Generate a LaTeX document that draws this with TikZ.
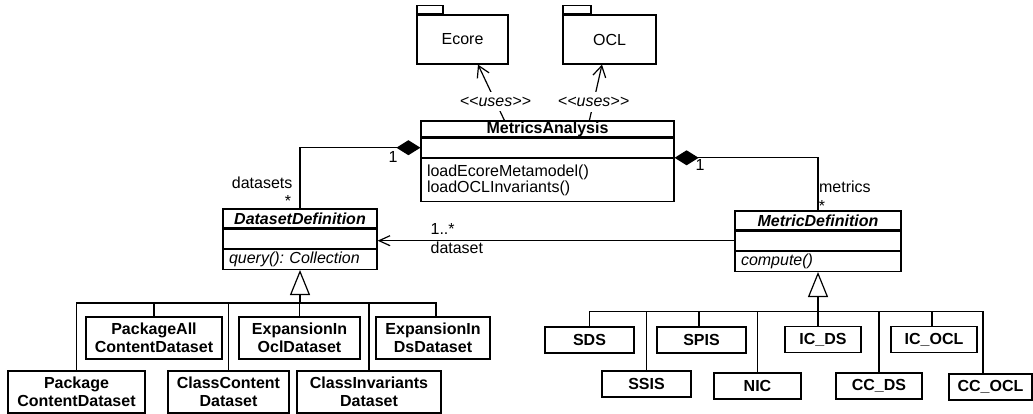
\documentclass[tikz,border=0pt]{standalone}
\usepackage{fontspec}
\setmainfont{Liberation Sans}
\usetikzlibrary{arrows.meta,positioning}
\newcommand{\stereo}[1]{<\kern0pt<#1>\kern0pt>}
\frenchspacing

\begin{document}
\begin{tikzpicture}[
		x=1pt, y=-1pt,
		line width=1.2pt,
		font=\fontsize{16}{18}\selectfont,
		cname/.style={draw, inner sep=0pt, minimum width=#1, font=\fontsize{16}{18}\selectfont\bfseries},
		abstract/.style={font=\fontsize{16}{18}\selectfont\bfseries\itshape},
		part/.style={draw, inner sep=0pt, minimum width=#1},
		ops/.style={draw, inner xsep=6pt, inner ysep=0pt, text width=#1, align=left, font=\fontsize{16}{16}\selectfont},
		leaf/.style={draw, inner sep=0pt, minimum width=#1, align=center, font=\fontsize{16}{18}\selectfont\bfseries},
		pkg/.style={draw, inner sep=0pt, minimum width=#1, minimum height=49pt},
		pkgtab/.style={draw, inner sep=0pt, minimum width=#1, minimum height=8pt, anchor=south west},
		lbl/.style={inner sep=0pt},
		uses/.style={fill=white, inner xsep=1pt, inner ysep=5pt, font=\fontsize{16}{18}\selectfont\itshape},
		comp/.style={{Diamond[length=24pt,width=15pt]}-},
		gen/.style={-{Triangle[open,length=25pt,width=20pt]}},
		dep/.style={-{Straight Barb[length=11pt,width=13pt]}},
		nav/.style={-{Straight Barb[length=11pt,width=10pt]}}
		]
	\useasboundingbox (0,0) rectangle (1033,414);

	% packages
	\node[pkg=91pt] (ecore) at (462.5,39.5) {Ecore};
	\node[pkgtab=26pt] (ecoretab) at (ecore.north west) {};
	\node[pkg=93pt] (ocl) at (609.5,39.5) {OCL};
	\node[pkgtab=28pt] (ocltab) at (ocl.north west) {};

	% classes
	\node[cname=253pt, minimum height=16pt] (maname) at (547.5,129) {MetricsAnalysis};
	\node[part=253pt, minimum height=19pt, below=0pt of maname] (maattr) {};
	\node[ops=241pt, minimum height=43pt, below=0pt of maattr] (maops) {loadEcoreMetamodel()\\loadOCLInvariants()};

	\node[cname=154pt, abstract, minimum height=19pt] (dsname) at (300,218.5) {DatasetDefinition};
	\node[part=154pt, minimum height=19pt, below=0pt of dsname] (dsattr) {};
	\node[ops=142pt, minimum height=20pt, below=0pt of dsattr, font=\fontsize{16}{16}\selectfont\itshape] (dsops) {query(): Collection};

	\node[cname=166pt, abstract, minimum height=19pt] (mdname) at (818,220.5) {MetricDefinition};
	\node[part=166pt, minimum height=19pt, below=0pt of mdname] (mdattr) {};
	\node[ops=154pt, minimum height=20pt, below=0pt of mdattr, font=\fontsize{16}{16}\selectfont\itshape] (mdops) {compute()};

	% datasets
	\node[leaf=136pt, minimum height=42pt] (pkgall) at (154,338) {PackageAll\\ContentDataset};
	\node[leaf=121pt, minimum height=42pt] (expocl) at (299.5,338) {ExpansionIn\\OclDataset};
	\node[leaf=114pt, minimum height=42pt] (expds) at (433,338) {ExpansionIn\\DsDataset};
	\node[leaf=137pt, minimum height=42pt] (pkgcont) at (76.5,392) {Package\\ContentDataset};
	\node[leaf=121pt, minimum height=42pt] (clscont) at (228.5,392) {ClassContent\\Dataset};
	\node[leaf=144pt, minimum height=42pt] (clsinv) at (369,392) {ClassInvariants\\Dataset};

	% metrics
	\node[leaf=89pt, minimum height=26pt] (sds) at (589.5,340) {SDS};
	\node[leaf=89pt, minimum height=26pt] (spis) at (701.5,340) {SPIS};
	\node[leaf=76pt, minimum height=26pt] (icds) at (823,339.5) {IC\_DS};
	\node[leaf=86pt, minimum height=26pt] (icocl) at (934,339.5) {IC\_OCL};
	\node[leaf=89pt, minimum height=26pt] (ssis) at (646.5,384) {SSIS};
	\node[leaf=87pt, minimum height=26pt] (nic) at (757.5,386) {NIC};
	\node[leaf=86pt, minimum height=26pt] (ccds) at (879,386) {CC\_DS};
	\node[leaf=83pt, minimum height=26pt] (ccocl) at (990.5,387) {CC\_OCL};

	\coordinate (dsbus) at (300,303);
	\coordinate (mbus) at (818,311.5);

	% dependencies
	\draw[dep] ([xshift=84pt]maname.north west) -- node[uses, pos=0.34] (usesecore) {\stereo{uses}} ([xshift=15.5pt]ecore.south);
	\draw[dep] ([xshift=169pt]maname.north west) -- node[uses, pos=0.33] (usesocl) {\stereo{uses}} ([xshift=-7.5pt]ocl.south);

	% compositions
	\draw[comp] (maattr.west) -| (dsname.north);
	\draw[comp] (maops.north east) -| (mdname.north);
	\node[lbl, anchor=base] (dsone) at (393,162.5) {1};
	\node[lbl, anchor=base east] (dsrole) at (293,189) {datasets};
	\node[lbl, anchor=base] (dsmany) at (288,206.5) {*};
	\node[lbl, anchor=base] (mdone) at (700,171) {1};
	\node[lbl, anchor=base west] (mdrole) at (818.5,193) {metrics};
	\node[lbl, anchor=base] (mdmany) at (822,211.5) {*};

	% association
	\draw[nav] (mdattr.west) -- (mdattr.west -| dsattr.east);
	\node[lbl, anchor=base west] (navmult) at (430,234) {1..*};
	\node[lbl, anchor=base west] (navrole) at (430,253) {dataset};

	% generalizations
	\draw[gen] (dsbus) -- (dsops.south);
	\draw (pkgall.north) |- (dsbus);
	\draw (expocl.north) |- (dsbus);
	\draw ([xshift=3pt]expds.north) |- (dsbus);
	\draw (pkgcont.north) |- (dsbus);
	\draw (clscont.north) |- (dsbus);
	\draw (clsinv.north) |- (dsbus);

	\draw[gen] (mbus) -- (mdops.south);
	\draw (sds.north) |- (mbus);
	\draw ([xshift=-2.5pt]spis.north) |- (mbus);
	\draw ([xshift=-5pt]icds.north) |- (mbus);
	\draw ([xshift=-2pt]icocl.north) |- (mbus);
	\draw (ssis.north) |- (mbus);
	\draw (nic.north) |- (mbus);
	\draw (ccds.north) |- (mbus);
	\draw ([xshift=-7.5pt]ccocl.north) |- (mbus);
\end{tikzpicture}
\end{document}
